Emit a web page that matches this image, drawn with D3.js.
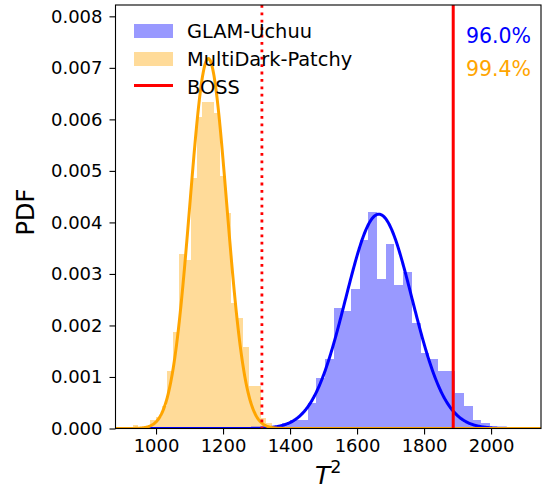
<!DOCTYPE html>
<html>
<head>
<meta charset="utf-8">
<script src="https://cdn.jsdelivr.net/npm/d3@7"></script>
<style>
  html, body { margin: 0; padding: 0; background: #fff; }
  svg { display: block; }
  text { font-family: "DejaVu Sans", sans-serif; }
</style>
</head>
<body>
<svg id="chart" width="544" height="489"></svg>
<script>
// ---------------- data ----------------
const seriesNames = ["GLAM-Uchuu", "MultiDark-Patchy"];
const bossLabel = "BOSS";

// GLAM-Uchuu histogram (density), uniform bins
const glamBinStart = 1375;
const glamBinWidth = 25.9;
const glamDensity = [0.00011, 0.00017, 0.00017, 0.00049, 0.00098, 0.00135, 0.00234, 0.00229,
  0.00271, 0.00365, 0.00421, 0.00291, 0.00359, 0.00278, 0.00303, 0.00204, 0.00147, 0.00135,
  0.00111, 0.00111, 0.00068, 0.00043, 0.00017, 0.00011];

// MultiDark-Patchy histogram (density), uniform bins
const mdBinStart = 929.9;
const mdBinWidth = 17.37;
const mdDensity = [0.00006, 0, 0, 0.00016, 0.00023, 0.00043, 0.00112, 0.00188, 0.00338, 0.00328,
  0.00486, 0.00604, 0.00634, 0.00634, 0.00612, 0.00491, 0.00419, 0.00244, 0.00214, 0.00159,
  0.00082, 0.00082, 0.0002, 0.0001];

// Gaussian fits: [amplitude, mean, sigma]
const glamFit = [0.00416, 1665, 99];
const mdFit = [0.00718, 1156, 55];

// reference values
const bossValue = 1887;
const thresholdValue = 1316;
const percentLabels = ["96.0%", "99.4%"];

// axes
const xDomain = [879, 2149];
const yDomain = [0, 0.00822];
const xTicks = [1000, 1200, 1400, 1600, 1800, 2000];
const yTicks = [0, 0.001, 0.002, 0.003, 0.004, 0.005, 0.006, 0.007, 0.008];

// ---------------- drawing ----------------
(function () {
const colors = { glam: "blue", md: "orange", boss: "red" };
const svg = d3.select("#chart");
const pL = 115.5, pR = 541, pT = 5, pB = 428.5;

const x = d3.scaleLinear().domain(xDomain).range([pL, pR]);
const y = d3.scaleLinear().domain(yDomain).range([pB, pT]);

svg.append("defs").append("clipPath").attr("id", "clip")
  .append("rect").attr("x", pL).attr("y", pT).attr("width", pR - pL).attr("height", pB - pT);

const plot = svg.append("g").attr("clip-path", "url(#clip)");

function bins(start, width, dens) {
  return dens.map((d, i) => ({ x0: start + i * width, x1: start + (i + 1) * width, v: d }));
}

function drawHist(data, color) {
  plot.append("g").attr("shape-rendering", "crispEdges")
    .selectAll("rect").data(data.filter(d => d.v > 0)).join("rect")
    .attr("x", d => x(d.x0))
    .attr("width", d => x(d.x1) - x(d.x0))
    .attr("y", d => y(d.v))
    .attr("height", d => y(0) - y(d.v))
    .attr("fill", color)
    .attr("fill-opacity", 0.4);
}

drawHist(bins(glamBinStart, glamBinWidth, glamDensity), colors.glam);
drawHist(bins(mdBinStart, mdBinWidth, mdDensity), colors.md);

const grid = d3.range(xDomain[0], xDomain[1] + 1, 1.5);
function gauss(p) { return t => p[0] * Math.exp(-((t - p[1]) ** 2) / (2 * p[2] * p[2])); }
const line = d3.line().x(d => x(d[0])).y(d => y(d[1]));

plot.append("path").datum(grid.map(t => [t, gauss(glamFit)(t)]))
  .attr("d", line).attr("fill", "none").attr("stroke", colors.glam).attr("stroke-width", 3);
plot.append("path").datum(grid.map(t => [t, gauss(mdFit)(t)]))
  .attr("d", line).attr("fill", "none").attr("stroke", colors.md).attr("stroke-width", 3);

// BOSS lines
plot.append("line").attr("x1", x(thresholdValue)).attr("x2", x(thresholdValue))
  .attr("y1", pT).attr("y2", pB)
  .attr("stroke", colors.boss).attr("stroke-width", 2.8).attr("stroke-dasharray", "2.8,4.6");
plot.append("line").attr("x1", x(bossValue)).attr("x2", x(bossValue))
  .attr("y1", pT).attr("y2", pB)
  .attr("stroke", colors.boss).attr("stroke-width", 3);

// frame
svg.append("rect").attr("x", pL).attr("y", pT).attr("width", pR - pL).attr("height", pB - pT)
  .attr("fill", "none").attr("stroke", "#000").attr("stroke-width", 1.1);

// axes
const xAxis = svg.append("g").attr("transform", `translate(0,${pB})`)
  .call(d3.axisBottom(x).tickValues(xTicks).tickFormat(d3.format("d")).tickSizeOuter(0).tickSize(6).tickPadding(5));
const yAxis = svg.append("g").attr("transform", `translate(${pL},0)`)
  .call(d3.axisLeft(y).tickValues(yTicks).tickFormat(d3.format(".3f")).tickSizeOuter(0).tickSize(6).tickPadding(7));
[xAxis, yAxis].forEach(a => {
  a.select(".domain").remove();
  a.selectAll("line").attr("stroke", "#000").attr("stroke-width", 1.1);
  a.selectAll("text").attr("font-family", "DejaVu Sans").attr("font-size", 18).attr("fill", "#000");
});

// axis labels
svg.append("text").attr("transform", `translate(34,212) rotate(-90)`)
  .attr("text-anchor", "middle").attr("font-size", 24).text("PDF");
const xl = svg.append("text").attr("x", (pL + pR) / 2).attr("y", 484)
  .attr("text-anchor", "middle").attr("font-size", 25);
xl.append("tspan").attr("font-style", "italic").text("T");
xl.append("tspan").attr("dy", -11).attr("font-size", 17.5).text("2");

// legend
const lg = svg.append("g");
const lgItems = [
  { label: seriesNames[0], type: "patch", color: colors.glam },
  { label: seriesNames[1], type: "patch", color: colors.md },
  { label: bossLabel, type: "line", color: colors.boss }
];
lgItems.forEach((d, i) => {
  const cy = 31 + i * 28;
  if (d.type === "patch") {
    lg.append("rect").attr("x", 134).attr("y", cy - 7).attr("width", 39).attr("height", 14)
      .attr("fill", d.color).attr("fill-opacity", 0.4);
  } else {
    lg.append("line").attr("x1", 134).attr("x2", 173).attr("y1", cy - 1.5).attr("y2", cy - 1.5)
      .attr("stroke", d.color).attr("stroke-width", 3);
  }
  lg.append("text").attr("x", 187).attr("y", cy + 6.5).attr("font-size", 19.4).text(d.label);
});

// percentages
svg.append("text").attr("x", 531).attr("y", 42.5).attr("text-anchor", "end")
  .attr("font-size", 20.5).attr("fill", colors.glam).text(percentLabels[0]);
svg.append("text").attr("x", 531).attr("y", 76).attr("text-anchor", "end")
  .attr("font-size", 20.5).attr("fill", colors.md).text(percentLabels[1]);
})();
</script>
</body>
</html>
